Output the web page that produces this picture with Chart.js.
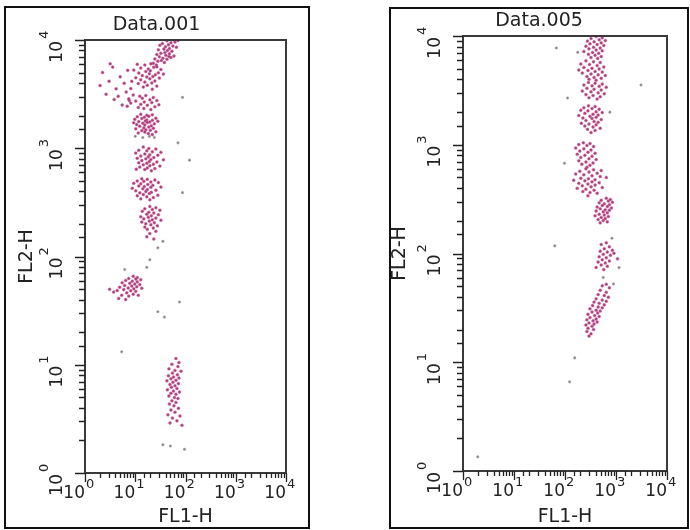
<!DOCTYPE html>
<html>
<head>
<meta charset="utf-8">
<script src="https://cdn.jsdelivr.net/npm/chart.js@4.4.1/dist/chart.umd.min.js"></script>
<style>
    body { margin: 0; background: #fff; width: 690px; height: 530px; position: relative; overflow: hidden; }
    .box { position: absolute; border: 2px solid #111; box-sizing: border-box; background: #fff; }
    canvas { position: absolute; }
</style>
</head>
<body>
<div class="box" style="left:4px; top:6px; width:306px; height:523px;"></div>
<div class="box" style="left:389px; top:7px; width:300px; height:522px;"></div>
<canvas id="plot001" width="301" height="519" style="left:6px; top:8px;"></canvas>
<canvas id="plot005" width="296" height="518" style="left:391px; top:9px;"></canvas>
<script>
// Подписи и деления осей
const panelTitles = ['Data.001', 'Data.005'];
const xTitle = 'FL1-H';
const yTitle = 'FL2-H';
const decades = [0, 1, 2, 3, 4];   // 10^0 ... 10^4 на обеих осях

// События: [log10 FL1-H, log10 FL2-H]
const d001Gated = [
    // верхняя полоса
    [1.63,3.992],[1.71,3.975],[1.54,3.968],[1.79,3.981],[1.66,3.957],[1.75,3.944],[1.49,3.951],[1.60,3.938],[1.68,3.921],[1.82,3.934],
    [1.57,3.917],[1.64,3.903],[1.46,3.909],[1.73,3.897],[1.59,3.884],[1.51,3.878],[1.68,3.873],[1.43,3.866],[1.61,3.859],[1.77,3.852],
    [1.48,3.846],[1.55,3.832],[1.71,3.838],[1.39,3.825],[1.63,3.822],[1.52,3.811],[1.45,3.804],[1.58,3.793],[1.85,3.995],[1.67,3.847],
    [1.36,3.785],[1.42,3.768],
    [1.04,3.776],[1.19,3.768],[1.31,3.781],[1.43,3.752],[1.11,3.741],[1.26,3.733],[1.37,3.748],[1.51,3.727],[0.97,3.722],[1.21,3.709],
    [1.30,3.716],[1.46,3.697],[1.07,3.694],[1.28,3.688],[1.40,3.679],[1.56,3.685],[1.14,3.671],[1.23,3.659],[1.35,3.662],[1.01,3.652],
    [1.48,3.648],[1.29,3.641],[1.11,3.633],[1.39,3.622],[0.93,3.618],[1.19,3.611],[1.33,3.603],[1.06,3.597],[1.24,3.582],[1.16,3.566],
    [1.43,3.574],[0.91,3.551],[1.34,3.546],
    // разброс слева вверху
    [0.35,3.70],[0.48,3.62],[0.55,3.75],[0.62,3.55],[0.70,3.66],[0.42,3.50],[0.78,3.60],[0.58,3.45],[0.85,3.72],[0.66,3.48],
    [0.88,3.44],[0.50,3.78],[0.74,3.40],[0.30,3.58],[0.82,3.52],
    [0.96,3.493],[1.09,3.481],[1.21,3.487],[1.36,3.468],[0.87,3.457],[1.14,3.462],[1.29,3.449],[1.01,3.436],[1.43,3.441],[1.18,3.428],
    [0.91,3.417],[1.33,3.422],[1.11,3.406],[1.24,3.398],[1.47,3.403],[0.84,3.389],[1.06,3.377],[1.39,3.384],[1.17,3.368],[1.31,3.357],
    [1.11,3.314],[1.23,3.305],[1.34,3.309],[1.04,3.292],[1.18,3.287],[1.27,3.296],[1.41,3.278],[0.99,3.268],[1.13,3.274],[1.23,3.261],
    [1.34,3.258],[1.07,3.247],[1.20,3.252],[1.29,3.243],[1.45,3.249],[0.97,3.236],[1.15,3.231],[1.24,3.238],[1.38,3.226],[1.03,3.219],
    [1.19,3.214],[1.32,3.207],[1.09,3.203],[1.27,3.196],[1.17,3.188],[1.36,3.184],[1.01,3.179],[1.21,3.172],[1.13,3.163],[1.30,3.166],
    [1.41,3.153],[1.19,3.149],[1.06,3.142],[1.26,3.137],[1.34,3.126],
    [1.16,3.012],[1.27,2.998],[1.41,2.993],[1.07,2.981],[1.23,2.976],[1.34,2.968],[1.51,2.962],[1.01,2.955],[1.19,2.947],[1.29,2.941],
    [1.45,2.936],[1.11,2.928],[1.26,2.922],[1.37,2.914],[1.04,2.907],[1.21,2.903],[1.31,2.897],[1.56,2.893],[1.13,2.886],[1.28,2.878],
    [1.43,2.874],[1.07,2.866],[1.23,2.861],[1.36,2.853],[1.16,2.847],[1.29,2.838],[1.49,2.835],[1.09,2.826],[1.24,2.818],[1.39,2.812],
    [1.19,2.803],[1.02,2.807],[1.32,2.793],
    [1.13,2.718],[1.24,2.713],[1.39,2.707],[1.04,2.698],[1.17,2.694],[1.31,2.688],[1.46,2.683],[0.97,2.677],[1.11,2.672],[1.25,2.666],
    [1.35,2.658],[1.07,2.652],[1.18,2.647],[1.31,2.639],[1.51,2.641],[0.94,2.631],[1.15,2.626],[1.24,2.619],[1.41,2.613],[1.01,2.607],
    [1.21,2.601],[1.32,2.593],[1.09,2.588],[1.28,2.581],[1.16,2.572],[1.45,2.566],[1.04,2.561],[1.23,2.552],[1.36,2.544],[1.11,2.533],
    [1.29,2.524],
    [1.29,2.463],[1.41,2.451],[1.19,2.442],[1.34,2.434],[1.49,2.428],[1.14,2.417],[1.27,2.409],[1.37,2.403],[1.23,2.391],[1.46,2.386],
    [1.32,2.377],[1.11,2.368],[1.26,2.362],[1.41,2.355],[1.17,2.348],[1.34,2.339],[1.51,2.336],[1.28,2.327],[1.13,2.318],[1.38,2.312],
    [1.21,2.303],[1.31,2.294],[1.44,2.283],[1.19,2.272],[1.36,2.263],[1.24,2.251],[1.41,2.233],[1.29,2.212],[1.23,2.183],[1.37,2.162],
    [0.96,1.818],[1.04,1.806],[0.87,1.797],[1.01,1.793],[1.11,1.786],[0.81,1.779],[0.94,1.772],[1.04,1.766],[0.74,1.758],[0.89,1.752],
    [0.99,1.746],[1.09,1.741],[0.79,1.733],[0.93,1.727],[1.03,1.721],[0.69,1.717],[0.86,1.709],[0.97,1.703],[1.13,1.707],[0.77,1.694],
    [0.91,1.683],[1.01,1.678],[0.64,1.686],[0.83,1.664],[0.96,1.652],[0.57,1.672],[0.73,1.643],[0.87,1.634],[1.06,1.641],[0.49,1.698],
    [0.67,1.613],[0.81,1.602],
    // столбик внизу
    [1.81,1.058],[1.87,1.021],[1.73,1.004],[1.85,0.983],[1.67,0.962],[1.79,0.948],[1.91,0.941],[1.74,0.923],[1.84,0.907],[1.66,0.899],
    [1.76,0.886],[1.87,0.878],[1.71,0.871],[1.81,0.857],[1.63,0.852],[1.75,0.838],[1.86,0.826],[1.69,0.818],[1.79,0.806],[1.72,0.793],
    [1.83,0.781],[1.64,0.768],[1.76,0.757],[1.88,0.749],[1.71,0.736],[1.81,0.728],[1.67,0.712],[1.78,0.698],[1.85,0.689],[1.73,0.668],
    [1.81,0.652],[1.68,0.638],[1.77,0.621],[1.86,0.598],[1.71,0.583],[1.79,0.562],[1.65,0.538],[1.89,0.527],[1.74,0.508],[1.83,0.482],
    [1.69,0.463],[1.93,0.441]
];
const d001Stray = [
    [1.29,1.97],[1.23,1.90],[0.79,1.88],[1.88,1.58],[1.45,1.49],[1.58,1.44],[0.73,1.12],[1.94,3.47],[2.08,2.89],[1.94,2.59],
    [1.85,3.05],[1.00,3.11],[1.15,3.10],[1.28,3.11],[1.38,3.10],[1.55,2.14],[1.45,2.08],[1.55,0.26],[1.70,0.25],[1.98,0.22]
];

const d005Gated = [
    [2.61,3.995],[2.73,3.984],[2.51,3.977],[2.67,3.966],[2.79,3.958],[2.44,3.953],[2.57,3.946],[2.71,3.937],[2.49,3.928],[2.63,3.921],
    [2.76,3.913],[2.41,3.906],[2.56,3.897],[2.69,3.889],[2.47,3.882],[2.61,3.871],[2.73,3.864],[2.37,3.858],[2.54,3.849],[2.66,3.841],
    [2.46,3.832],[2.59,3.823],[2.71,3.812],[2.51,3.803],[2.64,3.794],
    [2.41,3.772],[2.56,3.764],[2.69,3.757],[2.31,3.743],[2.48,3.738],[2.63,3.729],[2.76,3.716],[2.37,3.711],[2.53,3.703],[2.67,3.697],
    [2.27,3.688],[2.45,3.682],[2.59,3.674],[2.73,3.668],[2.34,3.659],[2.51,3.651],[2.65,3.643],[2.79,3.637],[2.43,3.628],[2.57,3.619],
    [2.71,3.611],[2.47,3.602],[2.61,3.593],
    [2.46,3.573],[2.59,3.566],[2.73,3.558],[2.37,3.549],[2.53,3.542],[2.67,3.537],[2.81,3.528],[2.43,3.519],[2.57,3.511],[2.71,3.503],
    [2.34,3.494],[2.51,3.487],[2.65,3.478],[2.77,3.469],[2.41,3.461],[2.55,3.453],[2.69,3.442],[2.47,3.433],[2.63,3.421],
    [2.46,3.358],[2.59,3.352],[2.37,3.341],[2.53,3.334],[2.67,3.327],[2.31,3.318],[2.45,3.312],[2.61,3.303],[2.73,3.296],[2.39,3.289],
    [2.55,3.281],[2.65,3.273],[2.27,3.268],[2.49,3.261],[2.61,3.253],[2.35,3.247],[2.53,3.241],[2.71,3.232],[2.41,3.223],[2.57,3.214],
    [2.65,3.206],[2.32,3.198],[2.47,3.191],[2.61,3.183],[2.39,3.172],[2.55,3.164],[2.69,3.152],[2.44,3.143],[2.59,3.131],[2.51,3.112],
    [2.36,3.018],[2.49,3.011],[2.27,3.002],[2.43,2.994],[2.56,2.983],[2.21,2.971],[2.37,2.963],[2.51,2.952],[2.29,2.943],[2.45,2.932],
    [2.59,2.921],[2.24,2.912],[2.39,2.903],[2.53,2.894],[2.31,2.883],[2.47,2.872],[2.61,2.864],[2.27,2.853],[2.41,2.842],[2.55,2.833],
    [2.33,2.821],[2.49,2.812],[2.43,2.793],
    [2.41,2.779],[2.56,2.771],[2.71,2.763],[2.29,2.757],[2.47,2.749],[2.63,2.738],[2.21,2.732],[2.37,2.724],[2.53,2.716],[2.69,2.708],
    [2.81,2.699],[2.31,2.693],[2.46,2.688],[2.59,2.679],[2.17,2.674],[2.39,2.668],[2.53,2.659],[2.67,2.651],[2.27,2.646],[2.45,2.638],
    [2.59,2.629],[2.34,2.622],[2.51,2.613],[2.73,2.607],[2.24,2.599],[2.41,2.591],[2.57,2.582],[2.35,2.571],[2.49,2.562],[2.63,2.553],
    [2.45,2.532],
    [2.81,2.508],[2.89,2.497],[2.71,2.489],[2.85,2.482],[2.93,2.471],[2.67,2.466],[2.77,2.458],[2.87,2.449],[2.73,2.441],[2.83,2.433],
    [2.63,2.427],[2.91,2.419],[2.69,2.412],[2.79,2.403],[2.87,2.397],[2.61,2.391],[2.75,2.383],[2.83,2.374],[2.67,2.362],[2.77,2.354],
    [2.59,2.347],[2.85,2.341],[2.71,2.332],[2.79,2.321],[2.65,2.312],[2.75,2.303],[2.83,2.291],[2.69,2.282],
    [2.81,2.098],[2.71,2.083],[2.87,2.062],[2.77,2.043],[2.93,2.031],[2.69,2.021],[2.83,2.013],[2.96,2.002],[2.75,1.992],[2.89,1.983],
    [2.67,1.971],[2.81,1.962],[2.73,1.943],[2.87,1.932],[3.03,1.951],[2.65,1.922],[2.79,1.913],[2.71,1.894],[2.83,1.882],[2.61,1.871],
    [2.76,1.852],
    [2.81,1.718],[2.73,1.703],[2.87,1.684],[2.69,1.662],[2.81,1.643],[2.65,1.622],[2.77,1.613],[2.85,1.598],[2.61,1.583],[2.73,1.572],
    [2.81,1.561],[2.57,1.553],[2.67,1.542],[2.77,1.528],[2.54,1.522],[2.65,1.509],[2.73,1.502],[2.49,1.491],[2.61,1.479],[2.69,1.472],
    [2.53,1.461],[2.64,1.452],[2.45,1.441],[2.58,1.429],[2.67,1.421],[2.49,1.412],[2.61,1.398],[2.43,1.391],[2.55,1.382],[2.63,1.371],
    [2.47,1.362],[2.57,1.351],[2.41,1.343],[2.53,1.332],[2.45,1.312],[2.56,1.301],[2.43,1.283],[2.51,1.262],[2.47,1.241]
];
const d005Stray = [
    [1.83,3.89],[2.05,3.43],[1.99,2.83],[1.80,2.07],[2.19,1.04],[2.09,0.82],[3.49,3.55],[0.29,0.13],[3.06,1.87],[2.92,2.14],
    [2.75,1.78],[2.95,1.72],[2.25,3.85],[2.88,3.30]
];

const FONT = 'DejaVu Sans';
const INK = '#222';

function toPoint(p) {
    return { x: Math.pow(10, p[0]), y: Math.pow(10, p[1]) };
}

function isDecade(v) {
    const l = Math.log10(v);
    return Math.abs(l - Math.round(l)) < 1e-6;
}

// Рамка, засечки и подписи 10^n (с верхним индексом)
const axisDecor = {
    id: 'axisDecor',
    afterDraw(chart) {
        const { ctx, chartArea: a, scales: { x, y } } = chart;
        ctx.save();
        ctx.strokeStyle = '#3a3a3a';
        ctx.lineWidth = 2;
        ctx.strokeRect(a.left, a.top, a.right - a.left, a.bottom - a.top);

        ctx.strokeStyle = INK;
        ctx.lineWidth = 1.3;
        ctx.beginPath();
        x.ticks.forEach(t => {
            const px = Math.round(x.getPixelForValue(t.value)) + 0.5;
            const len = isDecade(t.value) ? 9 : 5;
            ctx.moveTo(px, a.bottom);
            ctx.lineTo(px, a.bottom + len);
        });
        y.ticks.forEach(t => {
            const py = Math.round(y.getPixelForValue(t.value)) + 0.5;
            const len = isDecade(t.value) ? 10 : 6;
            ctx.moveTo(a.left, py);
            ctx.lineTo(a.left - len, py);
        });
        ctx.stroke();

        ctx.fillStyle = INK;
        ctx.textBaseline = 'alphabetic';
        const base = '17px "' + FONT + '"';
        const sup = '13px "' + FONT + '"';
        decades.forEach(k => {
            const px = x.getPixelForValue(Math.pow(10, k));
            ctx.font = base;
            ctx.textAlign = 'right';
            ctx.fillText('10', px, a.bottom + 25);
            ctx.font = sup;
            ctx.textAlign = 'left';
            ctx.fillText(String(k), px + 1, a.bottom + 15);
        });
        decades.forEach(k => {
            const py = y.getPixelForValue(Math.pow(10, k));
            ctx.save();
            ctx.translate(a.left, py);
            ctx.rotate(-Math.PI / 2);
            ctx.font = base;
            ctx.textAlign = 'right';
            ctx.fillText('10', -1, -23);
            ctx.font = sup;
            ctx.textAlign = 'left';
            ctx.fillText(String(k), 1, -37);
            ctx.restore();
        });
        ctx.restore();
    }
};

function makeChart(id, title, gated, stray, g) {
    return new Chart(document.getElementById(id), {
        type: 'scatter',
        data: {
            datasets: [{
                data: gated.map(toPoint),
                backgroundColor: 'rgba(158,42,108,0.9)',
                borderColor: 'rgba(214,120,170,0.45)',
                borderWidth: 1,
                pointRadius: 1.5
            }, {
                data: stray.map(toPoint),
                backgroundColor: 'rgba(120,108,120,0.85)',
                borderColor: 'rgba(180,170,180,0.4)',
                borderWidth: 1,
                pointRadius: 1.3
            }]
        },
        options: {
            responsive: false,
            animation: false,
            events: [],
            layout: { padding: 0 },
            plugins: {
                legend: { display: false },
                tooltip: { enabled: false },
                title: {
                    display: true,
                    text: title,
                    color: INK,
                    font: { family: FONT, size: 19, weight: 'normal' },
                    padding: { top: g.titleTop, bottom: g.titleBottom }
                }
            },
            scales: {
                x: {
                    type: 'logarithmic',
                    min: 1,
                    max: 10000,
                    grid: { display: false },
                    border: { display: false },
                    ticks: { display: false, autoSkip: false },
                    title: {
                        display: true,
                        text: xTitle,
                        color: INK,
                        font: { family: FONT, size: 19, lineHeight: 1 },
                        padding: { top: 0, bottom: g.xTitlePad }
                    },
                    afterFit: s => { s.height = g.bottom; }
                },
                y: {
                    type: 'logarithmic',
                    min: 1,
                    max: 10000,
                    grid: { display: false },
                    border: { display: false },
                    ticks: { display: false, autoSkip: false },
                    title: {
                        display: true,
                        text: yTitle,
                        color: INK,
                        font: { family: FONT, size: 19, lineHeight: 1 },
                        padding: { top: g.yTitlePad, bottom: 0 }
                    },
                    afterFit: s => { s.width = g.left; }
                },
                // пустая ось справа, только для отступа
                spacer: {
                    type: 'linear',
                    position: 'right',
                    grid: { display: false },
                    border: { display: false },
                    ticks: { display: false },
                    afterFit: s => { s.width = g.right; }
                }
            }
        },
        plugins: [axisDecor]
    });
}

document.addEventListener('DOMContentLoaded', function() {
    makeChart('plot001', panelTitles[0], d001Gated, d001Stray,
        { left: 79, right: 21, bottom: 54, titleTop: 5.6, titleBottom: 3.6, xTitlePad: 0.5, yTitlePad: 11.5 });
    makeChart('plot005', panelTitles[1], d005Gated, d005Stray,
        { left: 72, right: 20, bottom: 56, titleTop: 1.1, titleBottom: 3.1, xTitlePad: 0, yTitlePad: 0 });
});
</script>
</body>
</html>
